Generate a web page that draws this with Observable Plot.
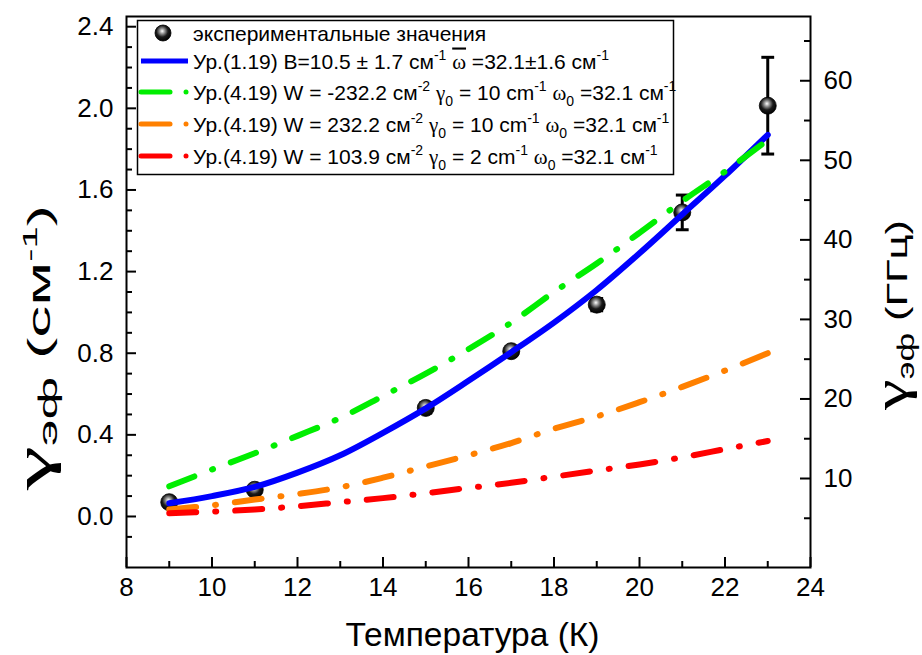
<!DOCTYPE html>
<html><head><meta charset="utf-8">
<script src="https://cdn.jsdelivr.net/npm/d3@7"></script>
<script src="https://cdn.jsdelivr.net/npm/@observablehq/plot@0.6"></script>
<style>
body{margin:0;background:#fff}
#chart{position:relative;width:922px;height:655px}
</style>
</head><body><div id="chart"></div>
<script>
// ---- data ----
const expT   = [9, 11, 15, 17, 19, 21, 23];
const expG   = [0.070, 0.131, 0.532, 0.810, 1.038, 1.490, 2.013];
const expErr = [0.015, 0.015, 0.025, 0.02, 0.03, 0.085, 0.237];

const fitT    = [9, 10, 11, 12, 13, 14, 15, 16, 17, 18, 19, 20, 21, 22, 23];
const blueG   = [0.065, 0.100, 0.145, 0.215, 0.300, 0.410, 0.530, 0.665, 0.805, 0.950, 1.110, 1.290, 1.480, 1.670, 1.870];
const greenG  = [0.148, 0.230, 0.310, 0.395, 0.483, 0.590, 0.700, 0.820, 0.950, 1.100, 1.240, 1.390, 1.545, 1.690, 1.845];
const orangeG = [0.034, 0.055, 0.083, 0.110, 0.143, 0.190, 0.245, 0.300, 0.360, 0.430, 0.490, 0.560, 0.635, 0.715, 0.800];
const redG    = [0.016, 0.024, 0.034, 0.050, 0.070, 0.090, 0.114, 0.140, 0.165, 0.195, 0.225, 0.255, 0.290, 0.330, 0.370];

const xMajor = [8, 10, 12, 14, 16, 18, 20, 22, 24];
const xMinor = [9, 11, 13, 15, 17, 19, 21, 23];
const yMajor = [0.0, 0.4, 0.8, 1.2, 1.6, 2.0, 2.4];
const yMinor = [-0.1, 0.1, 0.2, 0.3, 0.5, 0.6, 0.7, 0.9, 1.0, 1.1, 1.3, 1.4, 1.5, 1.7, 1.8, 1.9, 2.1, 2.2, 2.3];
const ghzMajor = [10, 20, 30, 40, 50, 60];
const ghzMinor = [5, 15, 25, 35, 45, 55, 65];

const seriesNames = ["blue", "green", "orange", "red"];
const seriesColors = ["#0000ff", "#00ee00", "#ff8000", "#ff0000"];
const seriesValues = [blueG, greenG, orangeG, redG];

// legend rows: [text, kind] kind: n normal, sup, sub, g greek, gb greek-overline
const legendRows = [
  [["экспериментальные значения","n"]],
  [["Ур.(1.19) B=10.5 ± 1.7 см","n"],["-1","sup"],[" ","n"],["ω","gb"],[" =32.1±1.6 см","n"],["-1","sup"]],
  [["Ур.(4.19) W = -232.2 см","n"],["-2","sup"],[" ","n"],["γ","g"],["0","sub"],[" = 10 cm","n"],["-1","sup"],[" ","n"],["ω","g"],["0","sub"],[" =32.1 см","n"],["-1","sup"]],
  [["Ур.(4.19) W = 232.2 см","n"],["-2","sup"],[" ","n"],["γ","g"],["0","sub"],[" = 10 cm","n"],["-1","sup"],[" ","n"],["ω","g"],["0","sub"],[" =32.1 см","n"],["-1","sup"]],
  [["Ур.(4.19) W = 103.9 см","n"],["-2","sup"],[" ","n"],["γ","g"],["0","sub"],[" = 2 cm","n"],["-1","sup"],[" ","n"],["ω","g"],["0","sub"],[" =32.1 см","n"],["-1","sup"]]
];
const xTitle = "Температура (К)";
const leftTitle = [["γ", "big"], ["эф", "sub"], [" (см", "n"], ["-1", "sup"], [")", "n"]];
const rightTitle = [["γ", "big"], ["эф", "sub"], [" (ГГц)", "n"]];

// ---- layout ----
const W = 922, H = 655, mL = 126, mR = 112, mT = 16, mB = 88;
const fw = W - mL - mR, fh = H - mT - mB;
// right axis (GHz) mapped onto left (cm^-1) scale
const ghzToCm = g => 0.1861 + (g - 10) * 0.03898;

const expData = expT.map((t, i) => ({t, g: expG[i], lo: expG[i] - expErr[i], hi: expG[i] + expErr[i]}));
const fitData = seriesNames.map((s, k) => fitT.map((t, i) => ({t, g: seriesValues[k][i], s})));

const dashDot = "27,19,1,19";
const sans = "'Liberation Sans', Arial, sans-serif";
const serif = "'Liberation Serif', 'Times New Roman', serif";

const defs = () => {
  const d = d3.create("svg:defs");
  const gr = d.append("radialGradient").attr("id", "sphere").attr("cx", "45%").attr("cy", "40%").attr("r", "60%").attr("fx", "45%").attr("fy", "38%");
  gr.append("stop").attr("offset", "0%").attr("stop-color", "#ffffff");
  gr.append("stop").attr("offset", "25%").attr("stop-color", "#9a9a9a");
  gr.append("stop").attr("offset", "60%").attr("stop-color", "#1a1a1a");
  gr.append("stop").attr("offset", "100%").attr("stop-color", "#000");
  return d.node();
};

const plot = Plot.plot({
  width: W, height: H,
  marginLeft: mL, marginRight: mR, marginTop: mT, marginBottom: mB,
  style: {fontFamily: sans, background: "white", color: "black"},
  x: {domain: [8, 24]},
  y: {domain: [-0.25, 2.45]},
  marks: [
    defs,
    // ticks (inward)
    Plot.tickX(xMajor, {x: d => d, insetTop: fh - 10, stroke: "black", strokeWidth: 2}),
    Plot.tickX(xMinor, {x: d => d, insetTop: fh - 6, stroke: "black", strokeWidth: 2}),
    Plot.tickY(yMajor, {y: d => d, insetRight: fw - 10, stroke: "black", strokeWidth: 2}),
    Plot.tickY(yMinor, {y: d => d, insetRight: fw - 6, stroke: "black", strokeWidth: 2}),
    Plot.tickY(ghzMajor, {y: d => ghzToCm(d), insetLeft: fw - 10, stroke: "black", strokeWidth: 2}),
    Plot.tickY(ghzMinor, {y: d => ghzToCm(d), insetLeft: fw - 6, stroke: "black", strokeWidth: 2}),
    // axes labels
    Plot.axisX(xMajor, {tickSize: 0, tickPadding: 10, fontSize: 26, label: null, tickFormat: d => d}),
    Plot.axisY(yMajor, {anchor: "left", tickSize: 0, tickPadding: 13, fontSize: 26, label: null, tickFormat: d => d.toFixed(1)}),
    Plot.axisY(ghzMajor.map(ghzToCm), {anchor: "right", tickSize: 0, tickPadding: 13, fontSize: 26, label: null, tickFormat: (d, i) => ghzMajor[i]}),
    // experimental points
    Plot.ruleX(expData, {x: "t", y1: "lo", y2: "hi", stroke: "black", strokeWidth: 3}),
    Plot.link(expData, {x1: d => d.t - 0.15, x2: d => d.t + 0.15, y1: "hi", y2: "hi", stroke: "black", strokeWidth: 3}),
    Plot.link(expData, {x1: d => d.t - 0.15, x2: d => d.t + 0.15, y1: "lo", y2: "lo", stroke: "black", strokeWidth: 3}),
    Plot.dot(expData, {x: "t", y: "g", r: 8.5, fill: "url(#sphere)", stroke: "black", strokeWidth: 0.8}),
    // curves
    Plot.line(fitData[0], {x: "t", y: "g", stroke: seriesColors[0], strokeWidth: 6, curve: "catmull-rom"}),
    ...[1, 2, 3].map(k => Plot.line(fitData[k], {x: "t", y: "g", stroke: seriesColors[k], strokeWidth: 6, curve: "catmull-rom", strokeDasharray: dashDot, strokeLinecap: "round"})),
    Plot.frame({stroke: "black", strokeWidth: 2}),
    Plot.text([xTitle], {frameAnchor: "bottom", dy: 78, fontSize: 33.5, text: d => d, dx: 4, fontFamily: sans})
  ]
});
document.getElementById("chart").appendChild(plot);

// ---- legend & rotated titles (rich text) ----
const svg = d3.select(plot);
const lg = svg.append("g");
lg.append("rect").attr("x", 137.5).attr("y", 20.5).attr("width", 536).attr("height", 154)
  .attr("fill", "white").attr("stroke", "black").attr("stroke-width", 1.5);
const rowY = [33, 61, 92, 124, 156];
function richText(sel, parts, base, opts = {}) {
  const supS = opts.sup || 14, subS = opts.sub || 14;
  let shift = 0;
  parts.forEach(([txt, kind]) => {
    const t = sel.append("tspan").text(txt);
    let target = 0;
    if (kind === "sup") { t.attr("font-size", supS); target = -(opts.supUp || 9); }
    else if (kind === "sub") { t.attr("font-size", subS); target = (opts.subDown || 6); }
    else if (kind === "g" || kind === "gb") { t.attr("font-family", serif).attr("font-size", opts.greek || base); }
    else if (kind === "big") { t.attr("font-family", serif).attr("font-size", opts.big); }
    if (kind === "gb") t.attr("text-decoration", "overline");
    if (target !== shift) { t.attr("dy", target - shift); shift = target; }
  });
}
legendRows.forEach((parts, i) => {
  const y = rowY[i];
  if (i === 0) {
    lg.append("circle").attr("cx", 163).attr("cy", y).attr("r", 8).attr("fill", "url(#sphere)").attr("stroke", "black").attr("stroke-width", 0.8);
  } else {
    const k = i - 1;
    if (k === 0) {
      lg.append("line").attr("x1", 141).attr("x2", 188).attr("y1", y).attr("y2", y).attr("stroke", seriesColors[k]).attr("stroke-width", 5);
    } else {
      lg.append("line").attr("x1", 141).attr("x2", 170).attr("y1", y).attr("y2", y).attr("stroke", seriesColors[k]).attr("stroke-width", 5).attr("stroke-linecap", "round");
      lg.append("circle").attr("cx", 186).attr("cy", y).attr("r", 2.5).attr("fill", seriesColors[k]);
    }
  }
  const t = lg.append("text").attr("x", 193).attr("y", y + 7.5).attr("text-anchor", "start").attr("font-family", sans).attr("font-size", 21).attr("fill", "black");
  richText(t, parts, 21, {greek: 21});
});

// left y title (stretched along its direction as in the reference)
const lt = svg.append("text").attr("transform", "translate(50,490) rotate(-90)").attr("text-anchor", "start")
  .attr("font-family", sans).attr("font-size", 32).attr("fill", "black")
  .attr("textLength", 285).attr("lengthAdjust", "spacingAndGlyphs");
richText(lt, leftTitle, 32, {big: 50, sub: 26, sup: 20, subDown: 7, supUp: 13});
// right y title
const rt = svg.append("text").attr("transform", "translate(907,410) rotate(-90)").attr("text-anchor", "start")
  .attr("font-family", sans).attr("font-size", 30).attr("fill", "black")
  .attr("textLength", 190).attr("lengthAdjust", "spacingAndGlyphs");
richText(rt, rightTitle, 30, {big: 48, sub: 24, subDown: 7});
</script>
</body></html>
